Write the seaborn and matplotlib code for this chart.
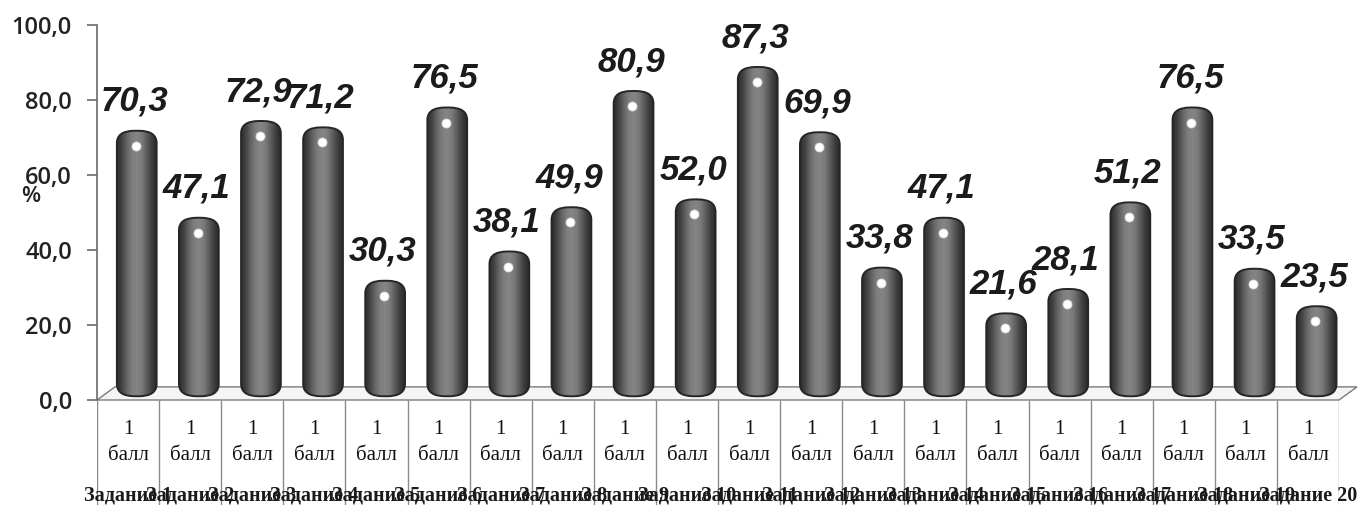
import numpy as np
import pandas as pd
import matplotlib
matplotlib.use("Agg")
import matplotlib.pyplot as plt
import seaborn as sns
from matplotlib.patches import FancyBboxPatch, Polygon
from matplotlib.colors import LinearSegmentedColormap

# ---- data ----
tasks = [f"Задание {i}" for i in range(1, 21)]
score_labels = ["1\nбалл"] * 20
values = [70.3, 47.1, 72.9, 71.2, 30.3, 76.5, 38.1, 49.9, 80.9, 52.0,
          87.3, 69.9, 33.8, 47.1, 21.6, 28.1, 51.2, 76.5, 33.5, 23.5]
y_ticks = [0, 20, 40, 60, 80, 100]
y_unit = "%"

sns.set_theme(style="white")
plt.rcParams["font.family"] = ["Liberation Sans", "DejaVu Sans"]

W, H = 1359, 505
fig = plt.figure(figsize=(W / 100, H / 100), dpi=100)

# plot area in pixel geometry
left_px, right_px, top_px, base_px = 97, 1339, 25, 400
ax = fig.add_axes([left_px / W, (H - base_px) / H,
                   (right_px - left_px) / W, (base_px - top_px) / H])

df = pd.DataFrame({"task": tasks, "value": values})
sns.barplot(data=df, x="task", y="value", ax=ax, width=0.64,
            color="#666666", errorbar=None)
bars = list(ax.patches)

n = len(values)
# perspective offsets of the 3D floor (in data units)
depth_x, depth_y = 0.29, 3.5
bar_shift, bar_base = 0.14, 1.0
aspect = 11.5

# floor of the 3D chart
floor = Polygon([(-0.5, 0), (n - 0.5, 0), (n - 0.5 + depth_x, depth_y),
                 (-0.5 + depth_x, depth_y)], closed=True,
                facecolor="#f5f5f5", edgecolor="#7a7a7a", lw=1.0, zorder=1,
                clip_on=False)
ax.add_patch(floor)

cyl_cmap = LinearSegmentedColormap.from_list(
    "cyl", ["#2c2c2c", "#444444", "#666666", "#7e7e7e", "#858585",
            "#7a7a7a", "#5c5c5c", "#3e3e3e", "#2a2a2a"])
grad = np.linspace(0, 1, 128)[None, :]

for p in bars:
    x0 = p.get_x() + bar_shift
    w = p.get_width()
    h = p.get_height() + 0.5
    p.set_visible(False)
    cyl = FancyBboxPatch((x0, bar_base), w, h,
                         boxstyle=f"round,pad=0,rounding_size={w * 0.45}",
                         mutation_aspect=aspect, facecolor="none",
                         edgecolor="#262626", lw=1.4, zorder=4)
    ax.add_patch(cyl)
    im = ax.imshow(grad, extent=[x0, x0 + w, bar_base, bar_base + h],
                   cmap=cyl_cmap, vmin=0, vmax=1, aspect="auto",
                   interpolation="bilinear", zorder=3)
    im.set_clip_path(cyl)
    ax.plot(x0 + w / 2 - 0.02, bar_base + h - 4.0, "o", ms=6.5, mfc="white",
            mec="#d8d8d8", mew=0.6, zorder=5)

for i, v in enumerate(values):
    ax.text(i + 0.1, v + 6.8, f"{v:.1f}".replace(".", ","),
            ha="center", va="baseline", fontsize=25, fontweight="bold",
            fontstyle="italic", color="#1b1b1b", zorder=6, clip_on=False)

ax.set_xlim(-0.5, n - 0.5)
ax.set_ylim(0, 100)
ax.set_yticks(y_ticks)
ax.set_yticklabels([f"{t:.1f}".replace(".", ",") for t in y_ticks])
ax.set_xticks([])
ax.set_xlabel("")
ax.set_ylabel("")
for s in ["top", "right", "bottom"]:
    ax.spines[s].set_visible(False)
ax.spines["left"].set_color("#6a6a6a")
ax.spines["left"].set_linewidth(1.2)
ax.tick_params(axis="y", left=True, length=7, width=1.2, color="#6a6a6a",
               pad=11, labelsize=17, labelcolor="#222222")
for lab in ax.get_yticklabels():
    lab.set_fontfamily(["Open Sans", "DejaVu Sans"])
    lab.set_fontweight("semibold")
ax.patch.set_alpha(0)

fig.text(31 / W, 1 - 196 / H, y_unit, ha="center", va="center", fontsize=16,
         fontweight="semibold", family=["Open Sans", "DejaVu Sans"], color="#222222")

# category table below the axis
tax = fig.add_axes([left_px / W, 0, (right_px - left_px) / W, (H - base_px) / H])
tax.set_xlim(-0.5, n - 0.5)
tax.set_ylim(0, H - base_px)
tax.axis("off")
tax.vlines(np.arange(n + 1) - 0.5, 0, H - base_px, color="#8a8a8a", lw=1.0)
for i, (lab, task) in enumerate(zip(score_labels, tasks)):
    top_line, bottom_line = lab.split("\n")
    tax.text(i, H - 429, top_line, ha="center", va="center", fontsize=15,
             family="Liberation Serif", color="#111111")
    tax.text(i, H - 455, bottom_line, ha="center", va="center", fontsize=15,
             family="Liberation Serif", color="#111111")
    tax.text(i, H - 496, task, ha="center", va="center", fontsize=14.5,
             family="Liberation Serif", fontweight="bold", color="#1a1a1a",
             clip_on=False)

fig.savefig("out.png", dpi=100, facecolor="white")
